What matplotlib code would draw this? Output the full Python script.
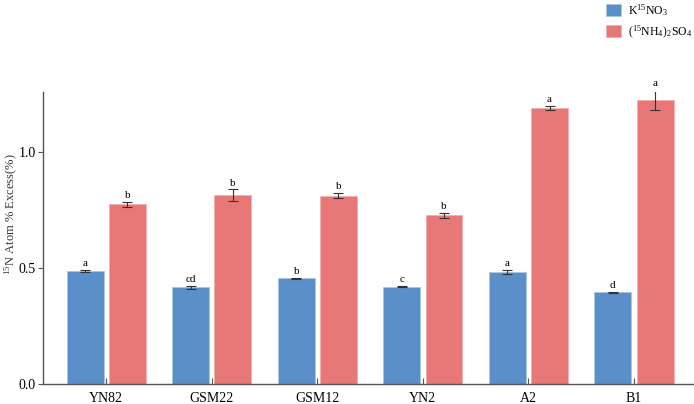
import numpy as np
import matplotlib.pyplot as plt

plt.rcParams['font.family'] = ['Liberation Serif', 'DejaVu Serif']
plt.rcParams['mathtext.fontset'] = 'stix'

# Data
cultivars = ['YN82', 'GSM22', 'GSM12', 'YN2', 'A2', 'B1']
kno3 = [0.488, 0.417, 0.456, 0.420, 0.483, 0.395]
kno3_err = [0.003, 0.005, 0.003, 0.003, 0.009, 0.003]
kno3_sig = ['a', 'cd', 'b', 'c', 'a', 'd']
nh4 = [0.776, 0.816, 0.813, 0.728, 1.190, 1.227]
nh4_err = [0.011, 0.024, 0.010, 0.011, 0.009, 0.043]
nh4_sig = ['b', 'b', 'b', 'b', 'a', 'a']

blue = '#5a8fc9'
red = '#e77877'
axc = '#555555'

fig = plt.figure(figsize=(6.94, 4.04), dpi=100)
ax = fig.add_axes([0.062, 0.0495, 0.9366, 0.7225])

x = np.arange(len(cultivars))
w = 0.35
off = 0.2
b1 = ax.bar(x - off, kno3, w, yerr=kno3_err, color=blue, edgecolor='#a9c6e6', linewidth=0.6,
            error_kw=dict(ecolor='#333333', elinewidth=0.8, capsize=3.5, capthick=0.8),
            label=r'K$^{\mathregular{15}}$NO$_{\mathregular{3}}$')
b2 = ax.bar(x + off, nh4, w, yerr=nh4_err, color=red, edgecolor='#f2b0b0', linewidth=0.6,
            error_kw=dict(ecolor='#333333', elinewidth=0.8, capsize=3.5, capthick=0.8),
            label=r'($^{\mathregular{15}}$NH$_{\mathregular{4}}$)$_{\mathregular{2}}$SO$_{\mathregular{4}}$')

for i in range(len(cultivars)):
    ax.text(x[i] - off, kno3[i] + kno3_err[i] + 0.008, kno3_sig[i], ha='center', va='bottom', fontsize=8)
    ax.text(x[i] + off, nh4[i] + nh4_err[i] + 0.008, nh4_sig[i], ha='center', va='bottom', fontsize=8)

ax.set_xlim(-0.6, 5.56)
ax.set_ylim(0, 1.26)
ax.set_xticks(x)
ax.set_xticklabels(cultivars, fontsize=10)
ax.set_yticks([0.0, 0.5, 1.0])
ax.set_yticklabels(['0.0', '0.5', '1.0'], fontsize=10)
ax.tick_params(axis='x', direction='in', length=4, color=axc, pad=6)
ax.tick_params(axis='y', direction='out', length=3.5, color=axc, pad=1.5)
ax.spines['top'].set_visible(False)
ax.spines['right'].set_visible(False)
for s in ['left', 'bottom']:
    ax.spines[s].set_color(axc)
    ax.spines[s].set_linewidth(1.0)
ax.set_ylabel(r'$^{\mathregular{15}}$N Atom % Excess(%)', fontsize=9, color='#333333')
ax.yaxis.set_label_coords(-0.036, 0.582)

fig.legend(handles=[b1, b2], loc='upper left', bbox_to_anchor=(0.873, 0.995), frameon=False,
           fontsize=8.5, handlelength=1.3, handleheight=1.3, handletextpad=0.55,
           labelspacing=0.45, borderpad=0, borderaxespad=0)

fig.savefig('out.png', dpi=100)
